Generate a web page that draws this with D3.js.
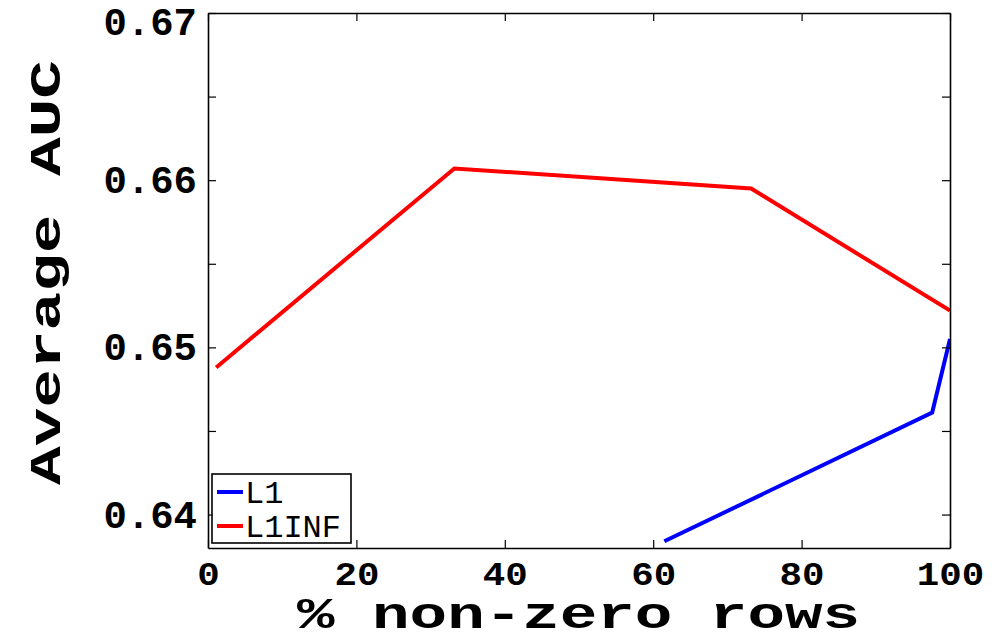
<!DOCTYPE html>
<html>
<head>
<meta charset="utf-8">
<script src="https://cdn.jsdelivr.net/npm/d3@7"></script>
<style>
  body { margin: 0; background: #fff; }
  svg { display: block; }
  text { font-family: "Liberation Mono", "DejaVu Sans Mono", monospace; }
</style>
</head>
<body>
<svg id="chart" width="994" height="641"></svg>
<script>
// data
var l1X = [61.5, 97.6, 100];
var l1Y = [0.6384, 0.6461, 0.6505];
var l1infX = [1.1, 33.2, 73.2, 100];
var l1infY = [0.6488, 0.6607, 0.6595, 0.6522];
var seriesNames = ['L1', 'L1INF'];
var seriesColors = ['#0000ff', '#ff0000'];
var xTicks = [0, 20, 40, 60, 80, 100];
var yTicks = [0.64, 0.645, 0.65, 0.655, 0.66, 0.665, 0.67];
var yLabeled = [0.64, 0.65, 0.66, 0.67];

var svg = d3.select('#chart');
var m = {left: 208, right: 950, top: 13, bottom: 548};

var x = d3.scaleLinear().domain([0, 100]).range([m.left, m.right]);
var y = d3.scaleLinear().domain([0.638, 0.67]).range([m.bottom, m.top]);

// clip so lines stop at the box like matlab does
svg.append('clipPath').attr('id', 'clip')
  .append('rect')
  .attr('x', m.left).attr('y', m.top)
  .attr('width', m.right - m.left).attr('height', m.bottom - m.top);

var line = d3.line().x(function(d) { return x(d[0]); }).y(function(d) { return y(d[1]); });

var series = [
  {name: seriesNames[0], color: seriesColors[0], pts: d3.zip(l1X, l1Y)},
  {name: seriesNames[1], color: seriesColors[1], pts: d3.zip(l1infX, l1infY)}
];

svg.append('g').attr('clip-path', 'url(#clip)')
  .selectAll('path')
  .data(series)
  .join('path')
  .attr('fill', 'none')
  .attr('stroke', function(d) { return d.color; })
  .attr('stroke-width', 4)
  .attr('stroke-linejoin', 'miter')
  .attr('d', function(d) { return line(d.pts); });

// axes, ticks point inward
var bottom = svg.append('g').attr('transform', 'translate(0,' + m.bottom + ')')
  .call(d3.axisBottom(x).tickValues(xTicks).tickSize(-8).tickSizeOuter(0).tickPadding(13)
    .tickFormat(d3.format('d')));
bottom.selectAll('.tick text')
  .attr('font-size', 34).attr('font-weight', 'bold')
  .attr('textLength', function(d) { return String(d).length * 22.5; })
  .attr('lengthAdjust', 'spacingAndGlyphs')
  .attr('font-family', '"Liberation Mono", monospace');

svg.append('g').attr('transform', 'translate(0,' + m.top + ')')
  .call(d3.axisTop(x).tickValues(xTicks).tickSize(-8).tickSizeOuter(0).tickFormat(''));

var left = svg.append('g').attr('transform', 'translate(' + m.left + ',0)')
  .call(d3.axisLeft(y).tickValues(yTicks).tickSize(-8).tickSizeOuter(0).tickPadding(11)
    .tickFormat(function(d) {
      return yLabeled.some(function(v) { return Math.abs(v - d) < 1e-9; }) ? d.toFixed(2) : '';
    }));
left.selectAll('.tick text')
  .attr('font-size', 39).attr('font-weight', 'bold')
  .attr('font-family', '"Liberation Mono", monospace')
  .attr('y', function(d) { return Math.max(0, 22 - y(d)); });

svg.append('g').attr('transform', 'translate(' + m.right + ',0)')
  .call(d3.axisRight(y).tickValues(yTicks).tickSize(-8).tickSizeOuter(0).tickFormat(''));

svg.selectAll('.domain').attr('stroke', '#000').attr('stroke-width', 1.6);
svg.selectAll('.tick line').attr('stroke', '#000').attr('stroke-width', 1.2);

// axis titles
svg.append('text')
  .attr('x', 297).attr('y', 628)
  .attr('font-size', 44).attr('font-weight', 'bold')
  .attr('textLength', 563).attr('lengthAdjust', 'spacingAndGlyphs')
  .text('% non-zero rows');

svg.append('text')
  .attr('transform', 'translate(60,485) rotate(-90)')
  .attr('font-size', 44).attr('font-weight', 'bold')
  .attr('textLength', 425).attr('lengthAdjust', 'spacingAndGlyphs')
  .text('Average AUC');

// legend
var lg = svg.append('g').attr('transform', 'translate(212,474)');
lg.append('rect').attr('width', 139).attr('height', 69)
  .attr('fill', '#fff').attr('stroke', '#000').attr('stroke-width', 1.6);
var item = lg.selectAll('g.item').data(series).join('g')
  .attr('class', 'item')
  .attr('transform', function(d, i) { return 'translate(0,' + (18 + i * 34) + ')'; });
item.append('line').attr('x1', 5).attr('x2', 31)
  .attr('stroke', function(d) { return d.color; }).attr('stroke-width', 4);
item.append('text').attr('x', 33).attr('y', 11)
  .attr('font-size', 32)
  .text(function(d) { return d.name; });
</script>
</body>
</html>
